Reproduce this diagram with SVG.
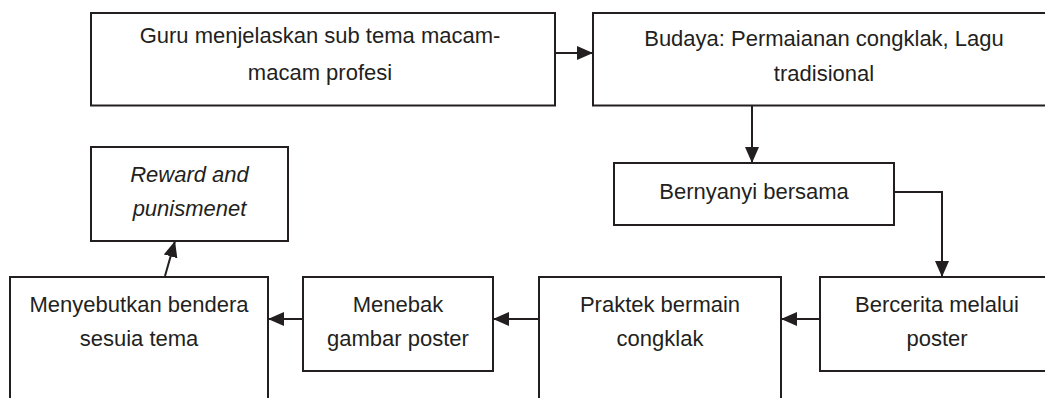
<svg xmlns="http://www.w3.org/2000/svg" width="1045" height="398" viewBox="0 0 1045 398">
<style>
.box{fill:#fff;stroke:#231f20;stroke-width:2}
.t{font-family:"Liberation Sans",Arial,sans-serif;font-size:22px;fill:#231f20;text-anchor:middle}
.i{font-style:italic}
.c{fill:none;stroke:#231f20;stroke-width:2}
</style>
<defs>
<marker id="ah" markerUnits="userSpaceOnUse" markerWidth="17" markerHeight="15" refX="16" refY="7" orient="auto">
<path d="M0,0 L16,7 L0,14 z" fill="#231f20"/>
</marker>
</defs>
<rect width="1045" height="398" fill="#fff"/>
<g id="n1"><rect class="box" x="91" y="13" width="464" height="92.5"/>
<text class="t" x="320" y="43">Guru menjelaskan sub tema macam-</text>
<text class="t" x="320" y="80">macam profesi</text></g>
<g id="n2"><rect class="box" x="593" y="13" width="462" height="92.5"/>
<text class="t" x="824" y="46">Budaya: Permaianan congklak, Lagu</text>
<text class="t" x="824" y="81">tradisional</text></g>
<g id="n3"><rect class="box" x="614" y="163" width="280" height="62"/>
<text class="t" x="754" y="199">Bernyanyi bersama</text></g>
<g id="n4"><rect class="box" x="820" y="277" width="235" height="94"/>
<text class="t" x="937" y="312">Bercerita melalui</text>
<text class="t" x="937" y="346">poster</text></g>
<g id="n5"><rect class="box" x="539" y="277" width="242" height="135"/>
<text class="t" x="660" y="312">Praktek bermain</text>
<text class="t" x="660" y="346">congklak</text></g>
<g id="n6"><rect class="box" x="303" y="277" width="190" height="94"/>
<text class="t" x="398" y="312">Menebak</text>
<text class="t" x="398" y="346">gambar poster</text></g>
<g id="n7"><rect class="box" x="10" y="277" width="258" height="135"/>
<text class="t" x="139" y="312">Menyebutkan bendera</text>
<text class="t" x="139" y="346">sesuia tema</text></g>
<g id="n8"><rect class="box" x="91" y="147" width="197" height="94"/>
<text class="t i" x="189.5" y="182">Reward and</text>
<text class="t i" x="189.5" y="216">punismenet</text></g>
<g id="connectors">
<path class="c" d="M556,53 L593,53" marker-end="url(#ah)"/>
<path class="c" d="M752,106 L752,163" marker-end="url(#ah)"/>
<path class="c" d="M895,192 L942,192 L942,277" marker-end="url(#ah)"/>
<path class="c" d="M819,319 L781,319" marker-end="url(#ah)"/>
<path class="c" d="M538,319 L493,319" marker-end="url(#ah)"/>
<path class="c" d="M302,319 L268,319" marker-end="url(#ah)"/>
<path class="c" d="M165,276 L175,241" marker-end="url(#ah)"/>
</g>
</svg>
